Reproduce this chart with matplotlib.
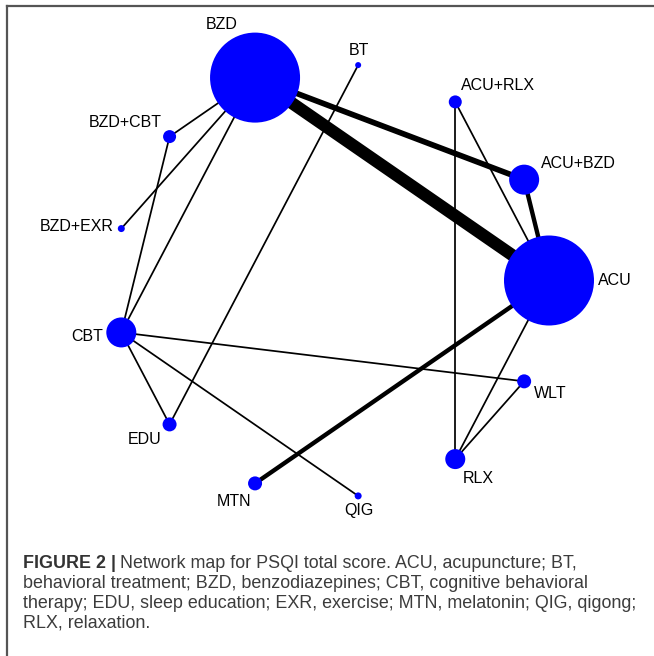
import numpy as np
import matplotlib
matplotlib.use("Agg")
import matplotlib.pyplot as plt
from matplotlib.patches import Circle
from matplotlib.lines import Line2D

# treatments in clockwise order around the circle, starting at the top
treatments = ["BT", "ACU+RLX", "ACU+BZD", "ACU", "WLT", "RLX", "QIG",
              "MTN", "EDU", "CBT", "BZD+EXR", "BZD+CBT", "BZD"]
# relative node size (proportional to amount of evidence)
node_weight = [0.6, 1.3, 3.0, 9.0, 1.4, 2.0, 0.7,
               1.4, 1.4, 3.0, 0.7, 1.3, 9.0]

# direct comparisons and number of studies behind each
edge_from = ["BZD", "BZD", "ACU+BZD", "BZD", "BZD", "BZD", "BZD+CBT", "BT",
             "CBT", "CBT", "CBT", "ACU", "ACU+RLX", "ACU+RLX", "ACU", "WLT"]
edge_to = ["ACU", "ACU+BZD", "ACU", "BZD+CBT", "BZD+EXR", "CBT", "CBT", "EDU",
           "EDU", "WLT", "QIG", "MTN", "RLX", "ACU", "RLX", "RLX"]
edge_studies = [9, 4, 3, 1, 1, 1, 1, 1, 1, 1, 1, 3, 1, 1, 1, 1]

caption_bold = "FIGURE 2 |"
caption_lines = [
    "Network map for PSQI total score. ACU, acupuncture; BT,",
    "behavioral treatment; BZD, benzodiazepines; CBT, cognitive behavioral",
    "therapy; EDU, sleep education; EXR, exercise; MTN, melatonin; QIG, qigong;",
    "RLX, relaxation.",
]

W, H = 654, 656
fig = plt.figure(figsize=(W / 100, H / 100), dpi=100)
ax = fig.add_axes([0, 0, 1, 1])
ax.set_xlim(0, W)
ax.set_ylim(H, 0)
ax.axis("off")

# circular layout, ACU sits at angle 0
n = len(treatments)
cx, cy, R = 332.0, 280.5, 217.0
ang = 2 * np.pi * (treatments.index("ACU") - np.arange(n)) / n
pos = {t: (cx + R * np.cos(a), cy - R * np.sin(a)) for t, a in zip(treatments, ang)}
rad = {t: 5.0 * w for t, w in zip(treatments, node_weight)}

for a, b, k in zip(edge_from, edge_to, edge_studies):
    (x1, y1), (x2, y2) = pos[a], pos[b]
    ax.plot([x1, x2], [y1, y2], color="black", lw=0.95 * k + 0.3,
            solid_capstyle="butt", zorder=1)

for t, a in zip(treatments, ang):
    x, y = pos[t]
    r = rad[t]
    ax.add_patch(Circle((x, y), r, facecolor="#0000ff", edgecolor="none", zorder=2))
    c, s = np.cos(a), np.sin(a)
    lx, ly = x + (r + 4) * c, y - (r + 4) * s
    ha = "left" if c > 0.2 else ("right" if c < -0.2 else "center")
    va = "bottom" if s > 0.3 else ("top" if s < -0.3 else "center")
    ax.text(lx, ly, t, ha=ha, va=va, fontsize=11.5,
            family="Liberation Sans", color="black", zorder=3)

# frame lines (left and top)
fig.add_artist(Line2D([7 / W, 7 / W], [0, 1 - 6 / H], color="#555555", lw=1.6))
fig.add_artist(Line2D([7 / W, 1], [1 - 6 / H, 1 - 6 / H], color="#555555", lw=1.6))

# caption
x0 = 23
line_y = [564, 584, 604, 623]
cap_font = "Liberation Sans"
renderer = fig.canvas.get_renderer()
probe = ax.text(0, 0, caption_lines[2], fontsize=10, family=cap_font)
wpx = probe.get_window_extent(renderer).width
probe.remove()
fs = 10 * 612 / wpx

bold = ax.text(x0, line_y[0], caption_bold, fontsize=fs, family=cap_font,
               fontweight="bold", color="#333333", ha="left", va="center")
bw = bold.get_window_extent(renderer).width
ax.text(x0 + bw + fs * 0.35, line_y[0], caption_lines[0], fontsize=fs, family=cap_font,
        color="#3c3c3c", ha="left", va="center")
for ln, y in zip(caption_lines[1:], line_y[1:]):
    ax.text(x0, y, ln, fontsize=fs, family=cap_font, color="#3c3c3c",
            ha="left", va="center")

fig.savefig("out.png", dpi=100)
